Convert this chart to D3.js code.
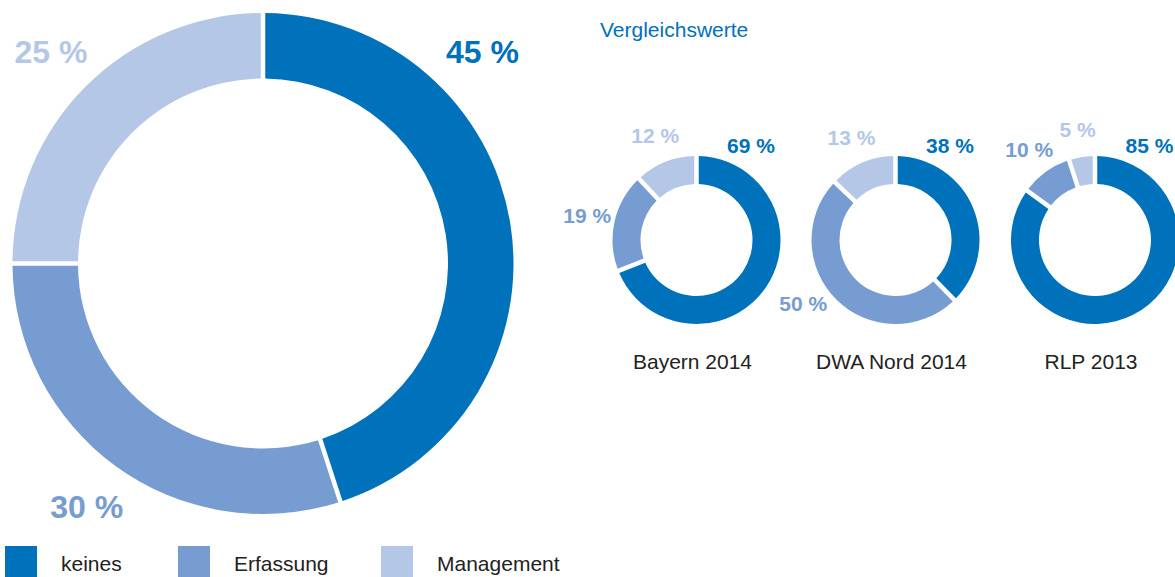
<!DOCTYPE html>
<html>
<head>
  <meta charset="utf-8">
  <title>Donuts</title>
  <style>
    body { margin: 0; background: #fff; }
    text { font-family: "Liberation Sans", Arial, sans-serif; }
  </style>
</head>
<body>
  <div id="chart"></div>
  <script src="https://cdn.jsdelivr.net/npm/d3@7"></script>
  <script>
    // data
    const categories = ['keines', 'Erfassung', 'Management'];
    const mainValues = [45, 30, 25];
    const compareNames = ['Bayern 2014', 'DWA Nord 2014', 'RLP 2013'];
    const bayernValues = [69, 19, 12];
    const dwaValues = [38, 50, 13];
    const rlpValues = [85, 10, 5];
    const compareValues = [bayernValues, dwaValues, rlpValues];
    const titleText = 'Vergleichswerte';

    const color = d3.scaleOrdinal()
      .domain(categories)
      .range(['#0071bb', '#769cd2', '#b4c7e7']);

    function translate(x, y) {
      return 'translate(' + x + ',' + y + ')';
    }

    let svg = d3.select('#chart')
      .append('svg')
        .attr('width', 1175)
        .attr('height', 577);

    let pie = d3.pie().sort(null).value(d => d);

    // draws one donut, labels outside
    function donut(values, cx, cy, ri, ro, gap, labelR, keinesAngle, keinesR, fontSize, shifts) {
      let g = svg.append('g').attr('transform', translate(cx, cy));
      let pr = (ri + ro) / 2;
      let arc = d3.arc()
        .innerRadius(ri)
        .outerRadius(ro)
        .padRadius(pr)
        .padAngle(gap / pr);

      let slices = pie(values).map((d, i) => Object.assign(d, { cat: categories[i] }));

      g.selectAll('path')
        .data(slices)
        .enter()
        .append('path')
          .attr('d', arc)
          .attr('fill', d => color(d.cat));

      g.selectAll('.lbl')
        .data(slices)
        .enter()
        .append('text')
          .attr('class', 'lbl')
          .attr('transform', (d, i) => {
            let a, r;
            if (i === 0) { a = keinesAngle * Math.PI / 180; r = keinesR; }
            else { a = (d.startAngle + d.endAngle) / 2 + ((shifts && shifts[i]) || 0) * Math.PI / 180; r = labelR; }
            return translate(r * Math.sin(a), -r * Math.cos(a));
          })
          .attr('dy', '0.36em')
          .style('text-anchor', 'middle')
          .style('font-size', fontSize + 'px')
          .style('font-weight', 'bold')
          .style('fill', d => color(d.cat))
          .text(d => d.data + ' %');
    }

    // main donut
    donut(mainValues, 263, 263.5, 185, 250.5, 4.5, 300, 46, 305, 32);

    // title
    svg.append('text')
      .attr('x', 600)
      .attr('y', 37)
      .style('font-size', '21px')
      .style('fill', color('keines'))
      .text(titleText);

    // comparison donuts
    const compareCx = [696.5, 895.5, 1095];
    const compareShift = [null, { 1: 11 }, null];
    compareValues.forEach((vals, k) => {
      donut(vals, compareCx[k], 240, 56, 84, 4.5, 112, 30, 109, 21, compareShift[k]);
      svg.append('text')
        .attr('x', compareCx[k] - 4)
        .attr('y', 369)
        .style('text-anchor', 'middle')
        .style('font-size', '21px')
        .style('fill', '#222')
        .text(compareNames[k]);
    });

    // legend
    const legendX = [5, 178, 381];
    let legend = svg.selectAll('.legend')
      .data(categories)
      .enter()
      .append('g')
        .attr('class', 'legend')
        .attr('transform', (d, i) => translate(legendX[i], 546));

    legend.append('rect')
      .attr('width', 32)
      .attr('height', 32)
      .style('fill', d => color(d));

    legend.append('text')
      .attr('x', 56)
      .attr('y', 25)
      .style('font-size', '21px')
      .style('fill', '#222')
      .text(d => d);
  </script>
</body>
</html>
